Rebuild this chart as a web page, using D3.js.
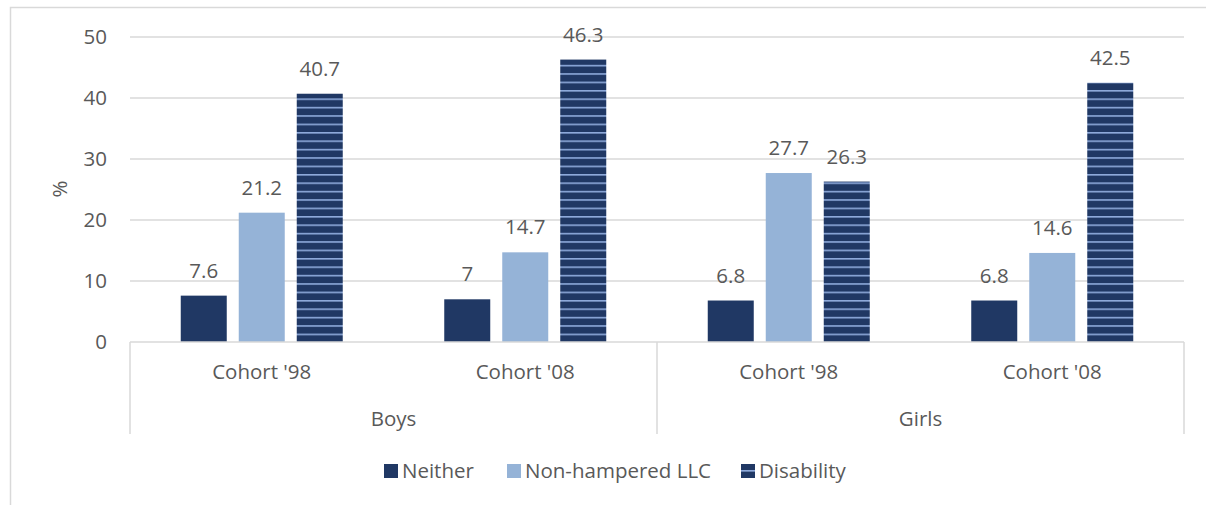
<!DOCTYPE html>
<html>
<head>
<meta charset="utf-8">
<script src="https://cdn.jsdelivr.net/npm/d3@7"></script>
<style>
  body { margin: 0; background: #fff; }
  svg { display: block; font-family: "Open Sans", sans-serif; }
</style>
</head>
<body>
<svg id="chart" width="1206" height="505"></svg>
<script>
// data
var groups = ["Boys", "Girls"];
var cohorts = ["Cohort '98", "Cohort '08"];
var seriesNames = ["Neither", "Non-hampered LLC", "Disability"];
var neither = [7.6, 7, 6.8, 6.8];
var llc = [21.2, 14.7, 27.7, 14.6];
var disability = [40.7, 46.3, 26.3, 42.5];
var yTicks = [0, 10, 20, 30, 40, 50];

var svg = d3.select("#chart");
var textColor = "#595959";
var gridColor = "#d9d9d9";
var fs = 20.5;

// outer chart frame (runs off right / bottom edge)
svg.append("rect")
    .attr("x", 10.5).attr("y", 7.5)
    .attr("width", 1220).attr("height", 520)
    .attr("fill", "none").attr("stroke", gridColor).attr("stroke-width", 1.5);

var defs = svg.append("defs");
var pat = defs.append("pattern")
    .attr("id", "hstripe")
    .attr("patternUnits", "userSpaceOnUse")
    .attr("width", 8).attr("height", 8.4)
    .attr("y", 342);
pat.append("rect").attr("width", 8).attr("height", 8.4).attr("fill", "#203864");
pat.append("rect").attr("y", 0).attr("width", 8).attr("height", 1.6).attr("fill", "#8eaadb");

// build rows: one per category (group x cohort)
var rows = [];
groups.forEach(function(g, gi) {
    cohorts.forEach(function(c, ci) {
        var i = gi * cohorts.length + ci;
        rows.push({
            key: g + "|" + c, group: g, cohort: c,
            values: [neither[i], llc[i], disability[i]]
        });
    });
});

var x0 = d3.scaleBand()
    .domain(rows.map(function(d) { return d.key; }))
    .range([130, 1184])
    .padding(0);

var innerW = 162;
var x1 = d3.scaleBand()
    .domain(seriesNames)
    .range([(x0.bandwidth() - innerW) / 2, (x0.bandwidth() + innerW) / 2])
    .paddingInner(12 / 58);

var y = d3.scaleLinear().domain([0, 50]).range([342, 37]);

var fills = {
    "Neither": "#203864",
    "Non-hampered LLC": "#95b3d7",
    "Disability": "url(#hstripe)"
};

// gridlines
svg.append("g")
    .selectAll("line")
    .data(yTicks.filter(function(t) { return t > 0; }))
    .enter().append("line")
    .attr("x1", 130).attr("x2", 1184)
    .attr("y1", function(d) { return y(d); })
    .attr("y2", function(d) { return y(d); })
    .attr("stroke", gridColor).attr("stroke-width", 1.5);

// y tick labels
svg.append("g")
    .selectAll("text")
    .data(yTicks)
    .enter().append("text")
    .attr("x", 107)
    .attr("y", function(d) { return y(d); })
    .attr("dy", "0.35em")
    .attr("text-anchor", "end")
    .attr("font-size", fs)
    .attr("fill", textColor)
    .text(function(d) { return d; });

svg.append("text")
    .attr("transform", "translate(60,189) rotate(-90)")
    .attr("text-anchor", "middle")
    .attr("dy", "0.35em")
    .attr("font-size", fs)
    .attr("fill", textColor)
    .text("%");

// bars
var cat = svg.append("g")
    .selectAll("g")
    .data(rows)
    .enter().append("g")
    .attr("transform", function(d) { return "translate(" + x0(d.key) + ",0)"; });

var cells = cat.selectAll("g")
    .data(function(d) {
        return seriesNames.map(function(s, i) { return { series: s, value: d.values[i] }; });
    })
    .enter().append("g");

cells.append("rect")
    .attr("x", function(d) { return x1(d.series); })
    .attr("y", function(d) { return y(d.value); })
    .attr("width", x1.bandwidth())
    .attr("height", function(d) { return y(0) - y(d.value); })
    .attr("fill", function(d) { return fills[d.series]; });

cells.append("text")
    .attr("x", function(d) { return x1(d.series) + x1.bandwidth() / 2; })
    .attr("y", function(d) { return y(d.value) - 18; })
    .attr("text-anchor", "middle")
    .attr("font-size", fs)
    .attr("fill", textColor)
    .text(function(d) { return d.value; });

// category axis
svg.append("line")
    .attr("x1", 130).attr("x2", 1184)
    .attr("y1", y(0)).attr("y2", y(0))
    .attr("stroke", gridColor).attr("stroke-width", 1.5);

var sepX = [130, x0(rows[2].key), 1184];
svg.append("g")
    .selectAll("line")
    .data(sepX)
    .enter().append("line")
    .attr("x1", function(d) { return d; }).attr("x2", function(d) { return d; })
    .attr("y1", y(0)).attr("y2", 434)
    .attr("stroke", gridColor).attr("stroke-width", 1.5);

svg.append("g")
    .selectAll("text")
    .data(rows)
    .enter().append("text")
    .attr("x", function(d) { return x0(d.key) + x0.bandwidth() / 2; })
    .attr("y", 372)
    .attr("dy", "0.35em")
    .attr("text-anchor", "middle")
    .attr("font-size", fs)
    .attr("fill", textColor)
    .text(function(d) { return d.cohort; });

svg.append("g")
    .selectAll("text")
    .data(groups)
    .enter().append("text")
    .attr("x", function(g, gi) {
        var a = x0(rows[gi * 2].key), b = x0(rows[gi * 2 + 1].key) + x0.bandwidth();
        return (a + b) / 2;
    })
    .attr("y", 419)
    .attr("dy", "0.35em")
    .attr("text-anchor", "middle")
    .attr("font-size", fs)
    .attr("fill", textColor)
    .text(function(d) { return d; });

// legend
var legendX = [384, 507, 741];
var leg = svg.append("g")
    .selectAll("g")
    .data(seriesNames)
    .enter().append("g")
    .attr("transform", function(d, i) { return "translate(" + legendX[i] + ",464)"; });

leg.append("rect")
    .attr("width", 14).attr("height", 14)
    .attr("fill", function(d) { return fills[d]; });

leg.append("text")
    .attr("x", 18).attr("y", 7)
    .attr("dy", "0.35em")
    .attr("font-size", fs)
    .attr("fill", textColor)
    .text(function(d) { return d; });
</script>
</body>
</html>
